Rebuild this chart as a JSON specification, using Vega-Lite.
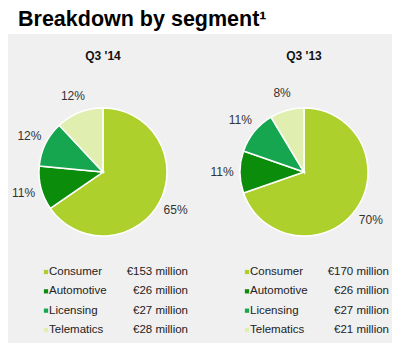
{
  "$schema": "https://vega.github.io/schema/vega-lite/v6.json",
  "width": 384,
  "height": 309,
  "autosize": "none",
  "padding": {"left": 8, "top": 34, "right": 8, "bottom": 7},
  "background": "white",
  "title": {
    "text": "Breakdown by segment¹",
    "anchor": "start",
    "frame": "group",
    "dx": 10,
    "offset": 4,
    "fontSize": 21.5,
    "fontWeight": "bold",
    "font": "Liberation Sans",
    "color": "#000000"
  },
  "config": {
    "view": {"fill": "#f0f0f0", "stroke": null},
    "locale": {"number": {"decimal": ".", "thousands": ",", "grouping": [3], "currency": ["€", " million"]}},
    "text": {"font": "Liberation Sans"}
  },
  "data": {
    "values": [
      {"period": "Q3 '14", "segment": "Consumer", "idx": 1, "value": 153, "pct": 0.65},
      {"period": "Q3 '14", "segment": "Automotive", "idx": 2, "value": 26, "pct": 0.11},
      {"period": "Q3 '14", "segment": "Licensing", "idx": 3, "value": 27, "pct": 0.12},
      {"period": "Q3 '14", "segment": "Telematics", "idx": 4, "value": 28, "pct": 0.12},
      {"period": "Q3 '13", "segment": "Consumer", "idx": 1, "value": 170, "pct": 0.70},
      {"period": "Q3 '13", "segment": "Automotive", "idx": 2, "value": 26, "pct": 0.11},
      {"period": "Q3 '13", "segment": "Licensing", "idx": 3, "value": 27, "pct": 0.11},
      {"period": "Q3 '13", "segment": "Telematics", "idx": 4, "value": 21, "pct": 0.08}
    ]
  },
  "encoding": {
    "x": {"field": "period", "type": "nominal", "scale": {"type": "point", "domain": ["Q3 '14", "Q3 '13"], "range": [95, 296], "padding": 0}, "axis": null},
    "color": {"field": "segment", "type": "nominal", "scale": {"domain": ["Consumer", "Automotive", "Licensing", "Telematics"], "range": ["#aed02c", "#0b8c0b", "#17a650", "#e0eeb0"]}, "legend": null}
  },
  "layer": [
    {
      "encoding": {
        "y": {"datum": "pie", "type": "nominal", "scale": {"type": "point", "domain": ["header", "pie"], "range": [22, 138], "padding": 0}, "axis": null}
      },
      "layer": [
        {
          "transform": [{"filter": "datum.period === \"Q3 '14\""}],
          "encoding": {
            "theta": {"field": "value", "type": "quantitative", "stack": "normalize"},
            "order": {"field": "idx", "type": "quantitative"}
          },
          "layer": [
            {"mark": {"type": "arc", "radius": 64, "stroke": "white", "strokeWidth": 1.5}},
            {"mark": {"type": "text", "radius": 82, "fontSize": 12}, "encoding": {"text": {"field": "pct", "type": "quantitative", "format": ".0%"}, "color": {"value": "#333333"}, "detail": {"field": "segment"}}}
          ]
        },
        {
          "transform": [{"filter": "datum.period === \"Q3 '13\""}],
          "encoding": {
            "theta": {"field": "value", "type": "quantitative", "stack": "normalize"},
            "order": {"field": "idx", "type": "quantitative"}
          },
          "layer": [
            {"mark": {"type": "arc", "radius": 64, "stroke": "white", "strokeWidth": 1.5}},
            {"mark": {"type": "text", "radius": 82, "fontSize": 12}, "encoding": {"text": {"field": "pct", "type": "quantitative", "format": ".0%"}, "color": {"value": "#333333"}, "detail": {"field": "segment"}}}
          ]
        },
        {
          "transform": [{"filter": "datum.segment === 'Consumer'"}],
          "mark": {"type": "text", "fontSize": 12, "fontWeight": "bold", "baseline": "middle"},
          "encoding": {
            "y": {"datum": "header", "type": "nominal"},
            "text": {"field": "period"},
            "color": {"value": "#111111"}
          }
        }
      ]
    },
    {
      "encoding": {
        "y": {"field": "segment", "type": "nominal", "scale": {"type": "point", "domain": ["Consumer", "Automotive", "Licensing", "Telematics"], "range": [238, 296], "padding": 0}, "axis": null}
      },
      "layer": [
        {"mark": {"type": "square", "size": 18, "opacity": 1, "filled": true, "xOffset": -57}},
        {"mark": {"type": "text", "align": "left", "baseline": "middle", "dx": -54, "fontSize": 11.5}, "encoding": {"text": {"field": "segment"}, "color": {"value": "#222222"}}},
        {"mark": {"type": "text", "align": "right", "baseline": "middle", "dx": 85, "fontSize": 11.5}, "encoding": {"text": {"field": "value", "type": "quantitative", "format": "$d"}, "color": {"value": "#222222"}}}
      ]
    }
  ],
  "resolve": {"scale": {"y": "independent"}}
}
